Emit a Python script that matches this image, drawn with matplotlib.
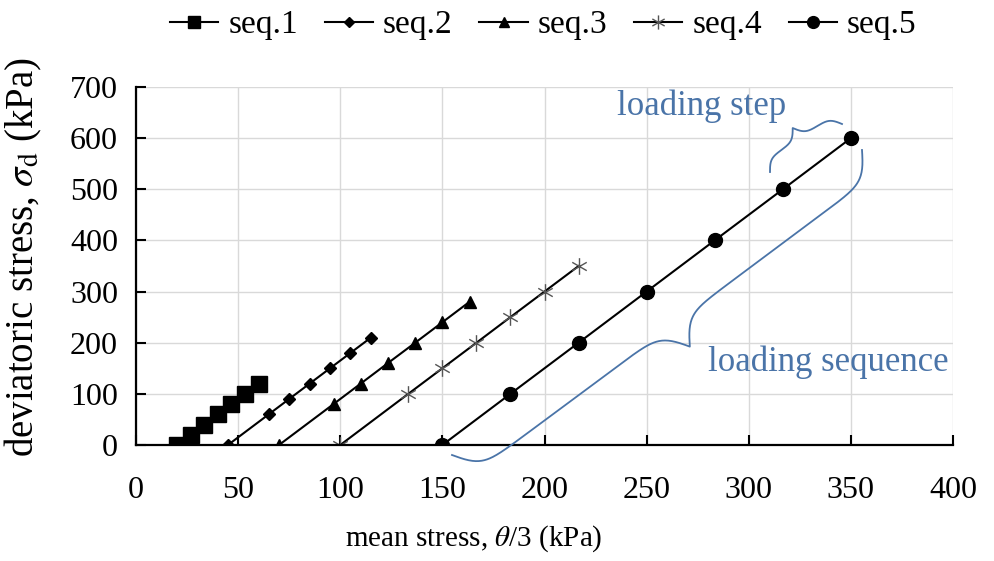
import numpy as np
import matplotlib
matplotlib.use('Agg')
import matplotlib.pyplot as plt
from matplotlib.path import Path
from matplotlib.lines import Line2D

plt.rcParams['font.family'] = 'Liberation Serif'
plt.rcParams['mathtext.fontset'] = 'stix'

# data (mean stress, deviatoric stress)
seq1_x = [20, 26.7, 33.3, 40, 46.7, 53.3, 60]
seq1_y = [0, 20, 40, 60, 80, 100, 120]
seq2_x = [45, 65, 75, 85, 95, 105, 115]
seq2_y = [0, 60, 90, 120, 150, 180, 210]
seq3_x = [70, 96.7, 110, 123.3, 136.7, 150, 163.3]
seq3_y = [0, 80, 120, 160, 200, 240, 280]
seq4_x = [100, 133.3, 150, 166.7, 183.3, 200, 216.7]
seq4_y = [0, 100, 150, 200, 250, 300, 350]
seq5_x = [150, 183.3, 216.7, 250, 283.3, 316.7, 350]
seq5_y = [0, 100, 200, 300, 400, 500, 600]
labels = ['seq.1', 'seq.2', 'seq.3', 'seq.4', 'seq.5']

W, H = 994, 561
blue = '#4a74a8'
fig = plt.figure(figsize=(W / 100, H / 100), dpi=100)
ax = fig.add_axes([136 / W, 1 - 445 / H, 817 / W, 358 / H])

# six-arm asterisk marker
asterisk = Path([(0, -1), (0, 1), (-0.87, -0.5), (0.87, 0.5), (-0.87, 0.5), (0.87, -0.5)],
                [Path.MOVETO, Path.LINETO, Path.MOVETO, Path.LINETO, Path.MOVETO, Path.LINETO])

ax.plot(seq1_x, seq1_y, color='black', lw=1.5, marker='s', ms=11, label=labels[0])
ax.plot(seq2_x, seq2_y, color='black', lw=1.5, marker='D', ms=6.5, label=labels[1])
ax.plot(seq3_x, seq3_y, color='black', lw=1.5, marker='^', ms=9, label=labels[2])
ax.plot(seq4_x, seq4_y, color='black', lw=1.5, marker=asterisk, ms=12, mew=1,
        mec='#555555', label=labels[3])
ax.plot(seq5_x, seq5_y, color='black', lw=1.5, marker='o', ms=10, label=labels[4])

ax.set_xlim(0, 400)
ax.set_ylim(0, 700)
ax.set_xticks(np.arange(0, 401, 50))
ax.set_yticks(np.arange(0, 701, 100))
ax.grid(True, color='#d9d9d9', lw=1)
ax.set_axisbelow(True)
for s in ['top', 'right']:
    ax.spines[s].set_visible(False)
for s in ['left', 'bottom']:
    ax.spines[s].set_linewidth(1.6)
ax.tick_params(axis='both', direction='in', length=7, width=1.5, labelsize=23)
ax.tick_params(axis='x', pad=22)
ax.tick_params(axis='y', pad=13)

ax.set_xlabel(r'mean stress, $\theta$/3 (kPa)', fontsize=21)
ax.set_ylabel(r'deviatoric stress, $\sigma_\mathrm{d}$ (kPa)', fontsize=28)
ax.xaxis.set_label_coords((474 - 136) / 817, -(523 - 445) / 358)
ax.yaxis.set_label_coords(-(136 - 44) / 817, (445 - 257) / 358)

fig.legend(loc='center left', bbox_to_anchor=(170 / W, 1 - 25 / H), ncol=5, frameon=False,
           fontsize=24, numpoints=1, handlelength=1.45, handletextpad=0.3,
           columnspacing=0.8, markerscale=0.85, borderpad=0, borderaxespad=0)


# curly braces for the annotations (pixel coords, y down)
def brace(p0, p1, depth, side, curl):
    p0 = np.array(p0, float)
    p1 = np.array(p1, float)
    d = p1 - p0
    L = np.hypot(*d)
    u = d / L
    n = np.array([-u[1], u[0]]) * side
    beta = L / curl
    t = np.linspace(0, 0.5, 300)
    half = 1 / (1 + np.exp(-beta * (t - t[0]))) + 1 / (1 + np.exp(-beta * (t - t[-1])))
    y = np.concatenate((half, half[-2::-1]))
    y = (y - y.min()) / (y.max() - y.min())
    s = np.linspace(0, 1, len(y))
    pts = p0 + np.outer(s * L, u) + np.outer(y * depth, n)
    fig.add_artist(Line2D(pts[:, 0] / W, 1 - pts[:, 1] / H, transform=fig.transFigure,
                          color=blue, lw=1.3))


brace((452, 455), (862, 150), 55, 1, 9)
brace((770, 172), (842, 124), 24, -1, 4)
fig.text(617 / W, 1 - 106 / H, 'loading step', color=blue, fontsize=25, va='center')
fig.text(708 / W, 1 - 362 / H, 'loading sequence', color=blue, fontsize=25, va='center')

fig.savefig('out.png', dpi=100)
